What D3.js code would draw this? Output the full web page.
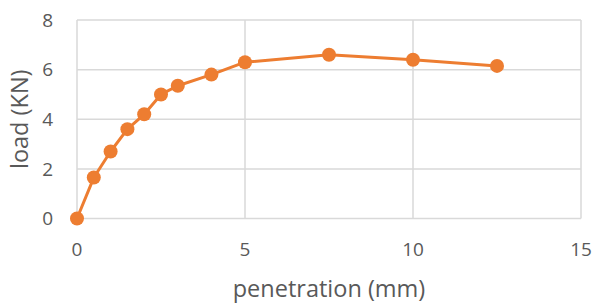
<!DOCTYPE html>
<html>
<head>
<meta charset="utf-8">
<script src="https://cdn.jsdelivr.net/npm/d3@7"></script>
<style>
  body { margin: 0; background: #fff; }
  svg { display: block; }
  text { font-family: "Open Sans", "Liberation Sans", sans-serif; fill: #595959; }
</style>
</head>
<body>
<svg id="chart"></svg>
<script>
const penetration = [0, 0.5, 1, 1.5, 2, 2.5, 3, 4, 5, 7.5, 10, 12.5]
const load = [0, 1.65, 2.7, 3.6, 4.2, 5.0, 5.35, 5.8, 6.3, 6.6, 6.4, 6.15]
const xTicks = [0, 5, 10, 15]
const yTicks = [0, 2, 4, 6, 8]

const width = 594
const height = 305
const margin = {top: 20, right: 13, bottom: 86, left: 77}

const svg = d3.select('#chart')
  .attr('width', width)
  .attr('height', height)

const x = d3.scaleLinear()
  .domain([0, 15])
  .range([margin.left, width - margin.right])

const y = d3.scaleLinear()
  .domain([0, 8])
  .range([height - margin.bottom - 0.5, margin.top])

const rows = penetration.map((p, i) => ({p, l: load[i]}))

// grid
const grid = svg.append('g')
  .attr('stroke', '#d9d9d9')
  .attr('stroke-width', 1.5)

grid.selectAll('line.h')
  .data(yTicks)
  .join('line')
    .attr('class', 'h')
    .attr('x1', x(0)).attr('x2', x(15))
    .attr('y1', d => y(d)).attr('y2', d => y(d))

grid.selectAll('line.v')
  .data(xTicks)
  .join('line')
    .attr('class', 'v')
    .attr('y1', y(0)).attr('y2', y(8))
    .attr('x1', d => x(d)).attr('x2', d => x(d))

// tick labels
svg.append('g')
  .selectAll('text')
  .data(xTicks)
  .join('text')
    .attr('x', d => x(d))
    .attr('y', y(0) + 37.5)
    .attr('text-anchor', 'middle')
    .attr('font-size', 19)
    .text(d => d)

svg.append('g')
  .selectAll('text')
  .data(yTicks)
  .join('text')
    .attr('x', margin.left - 24)
    .attr('y', d => y(d))
    .attr('dy', '0.35em')
    .attr('text-anchor', 'end')
    .attr('font-size', 19)
    .text(d => d)

// axis titles
svg.append('text')
  .attr('x', (x(0) + x(15)) / 2)
  .attr('y', 297)
  .attr('text-anchor', 'middle')
  .attr('font-size', 23.5)
  .text('penetration (mm)')

svg.append('text')
  .attr('transform', `translate(28,${(y(0) + y(8)) / 2}) rotate(-90)`)
  .attr('text-anchor', 'middle')
  .attr('font-size', 23.5)
  .text('load (KN)')

// series
const line = d3.line()
  .x(d => x(d.p))
  .y(d => y(d.l))

svg.append('path')
  .datum(rows)
  .attr('d', line)
  .attr('fill', 'none')
  .attr('stroke', '#ed7d31')
  .attr('stroke-width', 3)
  .attr('stroke-linejoin', 'round')

svg.append('g')
  .selectAll('circle')
  .data(rows)
  .join('circle')
    .attr('cx', d => x(d.p))
    .attr('cy', d => y(d.l))
    .attr('r', 7)
    .attr('fill', '#ed7d31')
</script>
</body>
</html>
